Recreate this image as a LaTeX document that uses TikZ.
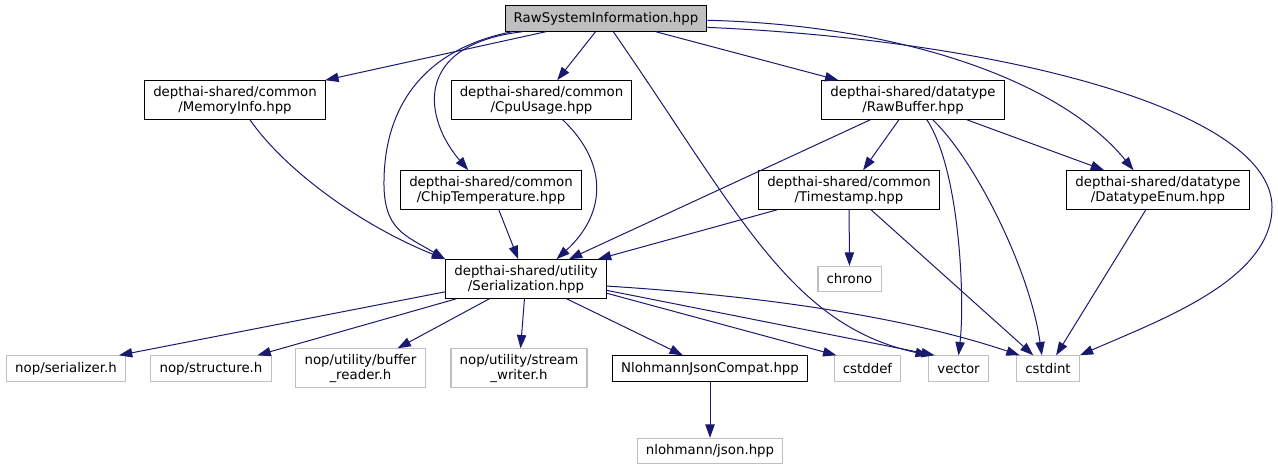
\documentclass[tikz,border=0pt]{standalone}
\usepackage{fontspec}
\setmainfont{DejaVu Sans}
\usetikzlibrary{arrows.meta}
\definecolor{edgeblue}{HTML}{191970}
\definecolor{grey75}{HTML}{BFBFBF}

\begin{document}
\begin{tikzpicture}[
  x=0.75pt, y=-0.75pt, % one unit is one pixel of the graph, y downwards
  ->, >={Triangle[length=10pt,width=7pt]}, % filled arrow heads
  dep line/.style={draw=edgeblue, line width=0.75pt}, % style of the include arrows
  every edge/.style={dep line},
  file node/.style={rectangle, draw=black, fill=white, line width=0.8pt, align=center,
    inner xsep=6.5pt, inner ysep=4pt, minimum height=19pt,
    font=\fontsize{10}{11.25}\selectfont}, % style of the documented files
  ext node/.style={file node, draw=grey75}, % style of the system headers
  root node/.style={file node, fill=grey75} % style of the file itself
  ]

  \path[use as bounding box] (0,0) rectangle (1278,469);

  \node[root node] (root) at (606,18.5) {RawSystemInformation.hpp};
  \node[file node] (mem) at (235,100) {depthai-shared/common\\/MemoryInfo.hpp};
  \node[file node] (cpu) at (541.5,100) {depthai-shared/common\\/CpuUsage.hpp};
  \node[file node] (rawbuf) at (913,100) {depthai-shared/datatype\\/RawBuffer.hpp};
  \node[file node] (chip) at (491,190) {depthai-shared/common\\/ChipTemperature.hpp};
  \node[file node] (stamp) at (849,190) {depthai-shared/common\\/Timestamp.hpp};
  \node[file node] (dtenum) at (1158,190) {depthai-shared/datatype\\/DatatypeEnum.hpp};
  \node[file node] (ser) at (526,279) {depthai-shared/utility\\/Serialization.hpp};
  \node[ext node] (chrono) at (849.5,279) {chrono};
  \node[ext node] (nopser) at (66,368.5) {nop/serializer.h};
  \node[ext node] (nopstruct) at (211,368.5) {nop/structure.h};
  \node[ext node] (bufrd) at (360.5,368.3) {nop/utility/buffer\\\_reader.h};
  \node[ext node] (strwr) at (519,368.3) {nop/utility/stream\\\_writer.h};
  \node[file node] (njc) at (710,368.5) {NlohmannJsonCompat.hpp};
  \node[ext node] (cstddef) at (867.5,368.5) {cstddef};
  \node[ext node] (vector) at (958.5,368.5) {vector};
  \node[ext node] (cstdint) at (1048,368.5) {cstdint};
  \node[ext node] (json) at (710,451) {nlohmann/json.hpp};

  \path
    (root) edge (mem)
    (root) edge (cpu)
    (root) edge (rawbuf)
    (chip) edge (ser)
    (rawbuf) edge (ser)
    (stamp) edge (ser)
    (rawbuf) edge (stamp)
    (rawbuf) edge (dtenum)
    (stamp) edge (chrono)
    (stamp) edge (cstdint)
    (dtenum) edge (cstdint)
    (ser.189) edge (nopser.14)
    (ser) edge (nopstruct)
    (ser) edge (bufrd)
    (ser) edge (strwr)
    (ser) edge (njc)
    (ser.-10) edge (cstddef.157)
    (ser.-8) edge (vector.151)
    (njc) edge (json);

  % curved includes
  \draw[dep line] (root.188) .. controls (420,50) and (385,110) .. (384,180)
    .. controls (383,230) and (405,235) .. (ser.north west);
  \draw[dep line] (root.189) .. controls (410,45) and (425,120) .. (chip.139);
  \draw[dep line] (root.-61) .. controls (740,215) and (790,325) .. (vector.156);
  \draw[dep line] (root.-1) .. controls (900,25) and (1060,80) .. (dtenum.141);
  \draw[dep line] (root.-5) .. controls (1000,40) and (1272,110) .. (1272,207)
    .. controls (1272,280) and (1160,320) .. (cstdint.north east);
  \draw[dep line] (mem.-53) .. controls (285,170) and (360,225) .. (ser.north west);
  \draw[dep line] (cpu.-43) .. controls (610,165) and (605,215) .. (ser.33);
  \draw[dep line] (rawbuf.-55) .. controls (960,170) and (965,300) .. (vector.north);
  \draw[dep line] (rawbuf.-45) .. controls (975,160) and (1030,270) .. (cstdint.115);
  \draw[dep line] (ser.-5) .. controls (750,295) and (900,315) .. (cstdint.155);
\end{tikzpicture}
\end{document}
